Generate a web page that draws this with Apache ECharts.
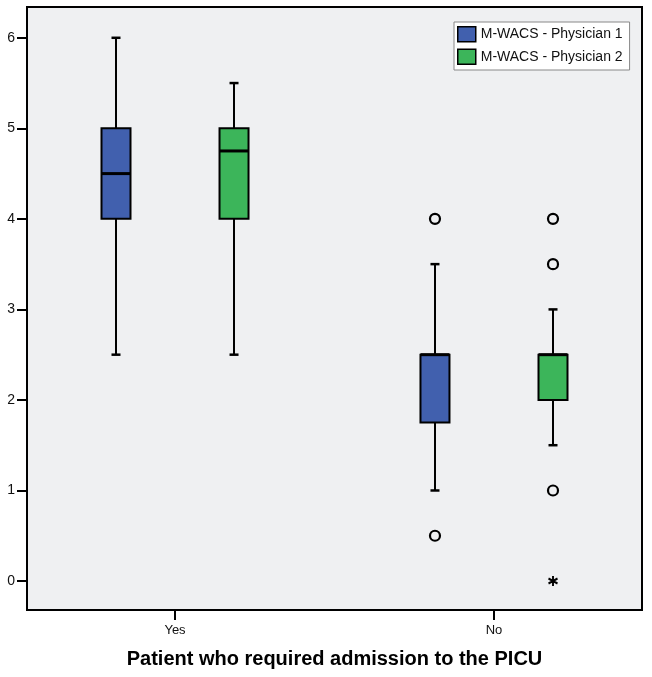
<!DOCTYPE html>
<html>
<head>
<meta charset="utf-8">
<script src="https://cdn.jsdelivr.net/npm/echarts@6/dist/echarts.min.js"></script>
<style>html,body{margin:0;padding:0;background:#fff}#c{width:652px;height:677px}</style>
</head>
<body>
<div id="c"></div>
<script>
// ---- data ----
var categories = ['Yes', 'No'];
var seriesNames = ['M-WACS - Physician 1', 'M-WACS - Physician 2'];
// [min, Q1, median, Q3, max] per category
var physician1 = [[2.5, 4, 4.5, 5, 6], [1, 1.75, 2.5, 2.5, 3.5]];
var physician2 = [[2.5, 4, 4.75, 5, 5.5], [1.5, 2, 2.5, 2.5, 3]];
// outliers: [categoryIndex, value]
var physician1Outliers = [[1, 4], [1, 0.5]];
var physician2Outliers = [[1, 4], [1, 3.5], [1, 1]];
var physician2Extremes = [[1, 0]];
var yTicks = [0, 1, 2, 3, 4, 5, 6];
var xTicks = [0, 1];

var colors = ['#4160AE', '#3CB55A'];
var offsets = [-0.185, 0.185];

function boxData(arr, off) {
  return arr.map(function (d, i) { return [i + off].concat(d); });
}
function ptData(arr, off) {
  return arr.map(function (d) { return [d[0] + off, d[1]]; });
}

function renderBox(params, api) {
  var x = api.value(0);
  var vals = [api.value(1), api.value(2), api.value(3), api.value(4), api.value(5)];
  var p = vals.map(function (v) { return api.coord([x, v]); });
  var cx = p[0][0];
  var halfW = 14.5, capHalf = 4.5;
  var fill = api.visual('color');
  return {
    type: 'group',
    children: [
      { type: 'line', shape: { x1: cx, y1: p[0][1], x2: cx, y2: p[1][1] }, style: { stroke: '#000', lineWidth: 2 } },
      { type: 'line', shape: { x1: cx, y1: p[3][1], x2: cx, y2: p[4][1] }, style: { stroke: '#000', lineWidth: 2 } },
      { type: 'line', shape: { x1: cx - capHalf, y1: p[0][1], x2: cx + capHalf, y2: p[0][1] }, style: { stroke: '#000', lineWidth: 2.5 } },
      { type: 'line', shape: { x1: cx - capHalf, y1: p[4][1], x2: cx + capHalf, y2: p[4][1] }, style: { stroke: '#000', lineWidth: 2.5 } },
      { type: 'rect', shape: { x: cx - halfW, y: p[3][1], width: halfW * 2, height: p[1][1] - p[3][1] }, style: { fill: fill, stroke: '#000', lineWidth: 2 } },
      { type: 'line', shape: { x1: cx - halfW, y1: p[2][1], x2: cx + halfW, y2: p[2][1] }, style: { stroke: '#000', lineWidth: 3 } }
    ]
  };
}

var chart = echarts.init(document.getElementById('c'), null, { renderer: 'canvas' });
var fontFam = '"Liberation Sans", Arial, Helvetica, sans-serif';
chart.setOption({
  backgroundColor: '#fff',
  animation: false,
  grid: { left: 27, top: 7, width: 615, height: 603, show: true, backgroundColor: '#EFF0F2', borderColor: '#000', borderWidth: 2, containLabel: false },
  legend: {
    left: 454, top: 22, orient: 'vertical',
    backgroundColor: '#fff', borderColor: '#888', borderWidth: 1,
    padding: [4, 7, 5, 3], itemWidth: 18, itemHeight: 15, itemGap: 6,
    icon: 'rect',
    textStyle: { fontFamily: fontFam, fontSize: 14, color: '#111' },
    data: [
      { name: seriesNames[0], itemStyle: { color: colors[0], borderColor: '#000', borderWidth: 1.5 } },
      { name: seriesNames[1], itemStyle: { color: colors[1], borderColor: '#000', borderWidth: 1.5 } }
    ]
  },
  xAxis: {
    type: 'value', min: -0.464, max: 1.464,
    splitLine: { show: false },
    axisLine: { show: false, onZero: false },
    axisTick: { show: true, length: 10, lineStyle: { color: '#000', width: 2 }, customValues: xTicks },
    axisLabel: {
      customValues: xTicks, margin: 14,
      fontFamily: fontFam, fontSize: 13, color: '#111',
      formatter: function (v) { return categories[Math.round(v)]; }
    },
    name: 'Patient who required admission to the PICU',
    nameLocation: 'middle', nameGap: 39,
    nameTextStyle: { fontFamily: fontFam, fontSize: 20, fontWeight: 'bold', color: '#000' }
  },
  yAxis: {
    type: 'value', min: -0.32, max: 6.34,
    splitLine: { show: false },
    axisLine: { show: false, onZero: false },
    axisTick: { show: true, length: 10, lineStyle: { color: '#000', width: 2 }, customValues: yTicks },
    axisLabel: { customValues: yTicks, margin: 12, fontFamily: fontFam, fontSize: 14, color: '#111' }
  },
  series: [
    { name: seriesNames[0], type: 'custom', renderItem: renderBox, data: boxData(physician1, offsets[0]), itemStyle: { color: colors[0] }, encode: { x: 0, y: [1, 2, 3, 4, 5] }, z: 2 },
    { name: seriesNames[1], type: 'custom', renderItem: renderBox, data: boxData(physician2, offsets[1]), itemStyle: { color: colors[1] }, encode: { x: 0, y: [1, 2, 3, 4, 5] }, z: 2 },
    { name: 'out1', type: 'scatter', data: ptData(physician1Outliers, offsets[0]), symbol: 'circle', symbolSize: 10, itemStyle: { color: 'rgba(0,0,0,0)', borderColor: '#000', borderWidth: 2.2, opacity: 1 }, z: 3 },
    { name: 'out2', type: 'scatter', data: ptData(physician2Outliers, offsets[1]), symbol: 'circle', symbolSize: 10, itemStyle: { color: 'rgba(0,0,0,0)', borderColor: '#000', borderWidth: 2.2, opacity: 1 }, z: 3 },
    { name: 'ext2', type: 'scatter', data: ptData(physician2Extremes, offsets[1]), symbol: 'path://M5,0L5,10M0.67,2.5L9.33,7.5M0.67,7.5L9.33,2.5', symbolSize: [9, 10], itemStyle: { color: 'rgba(0,0,0,0)', borderColor: '#000', borderWidth: 2, opacity: 1 }, z: 3 }
  ]
});
</script>
</body>
</html>
